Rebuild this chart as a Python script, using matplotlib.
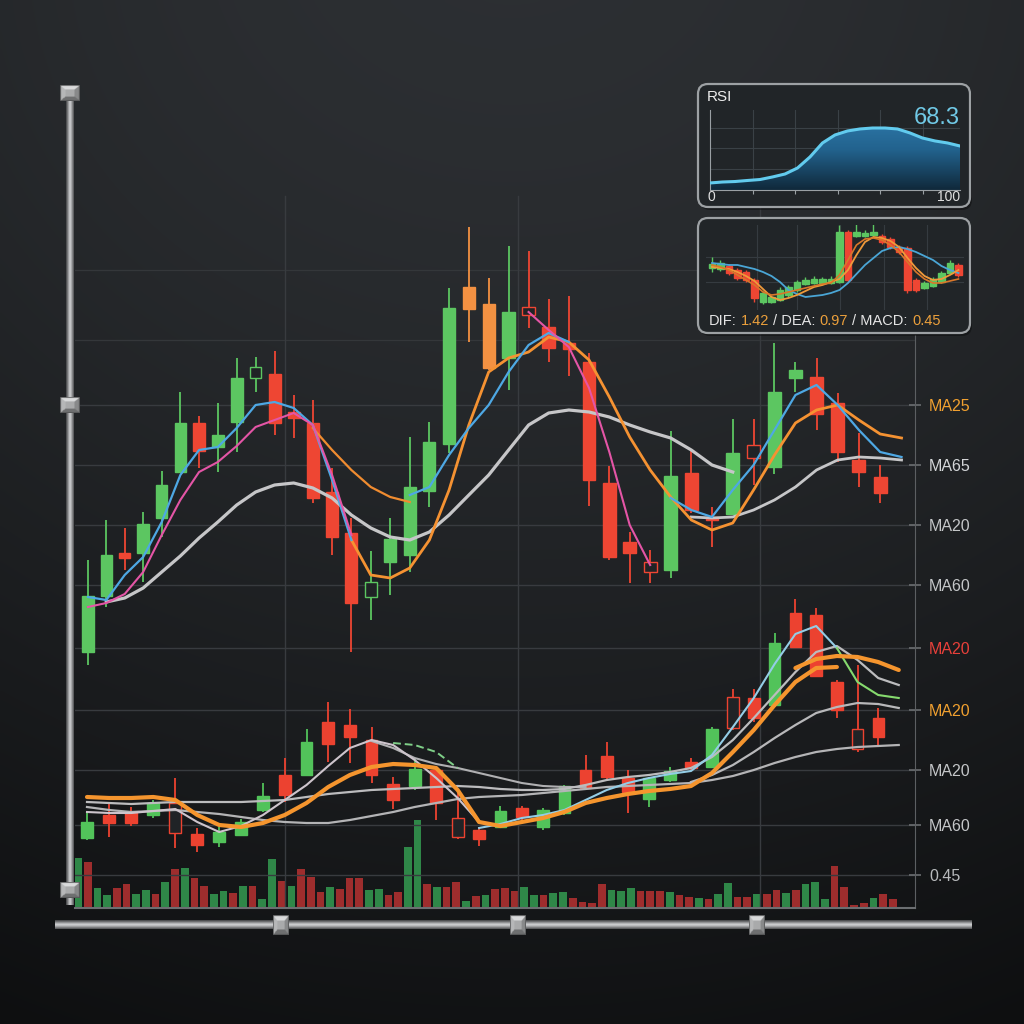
import numpy as np
import matplotlib
matplotlib.use("Agg")
import matplotlib.pyplot as plt
from matplotlib.patches import FancyBboxPatch
from matplotlib.colors import LinearSegmentedColormap

plt.rcParams["font.family"] = ["Liberation Sans", "DejaVu Sans"]

nan = np.nan

# ---------------- upper price series (41 sessions) ----------------
up_open = [25.8, 31.4, 35.7, 35.7, 39.2, 43.8, 48.7, 46.3, 48.8, 53.2, 53.6, 49.8, 48.7, 41.8,
           37.7, 31.3, 34.8, 35.5, 41.9, 46.6, 60.1, 60.6, 55.2, 60.3, 58.3, 56.7, 54.8, 42.7,
           36.8, 34.8, 34.0, 43.7, 39.3, 39.6, 46.5, 44.3, 53.2, 53.3, 50.7, 45.0, 43.3]
up_close = [31.4, 35.5, 35.2, 38.6, 42.5, 48.7, 45.9, 47.5, 53.2, 54.3, 48.7, 49.2, 41.2, 37.3,
            30.7, 32.8, 37.1, 42.3, 46.8, 60.2, 62.3, 54.2, 59.8, 59.5, 56.2, 56.1, 43.0, 35.3,
            35.7, 33.8, 43.4, 40.0, 39.0, 45.7, 45.2, 51.8, 54.0, 49.6, 45.8, 43.8, 41.7]
up_high = [35.0, 39.0, 38.2, 39.8, 43.9, 51.8, 49.4, 50.7, 55.2, 55.3, 55.9, 51.5, 51.0, 44.2,
           39.2, 35.9, 39.2, 47.3, 48.8, 62.2, 68.3, 63.2, 66.4, 65.9, 61.1, 61.4, 55.7, 44.4,
           37.8, 36.0, 47.9, 46.0, 40.3, 49.1, 49.1, 56.7, 54.8, 55.2, 51.7, 47.7, 44.5]
up_low = [24.5, 30.3, 34.0, 32.8, 37.3, 43.7, 44.2, 43.8, 45.8, 51.8, 47.5, 47.2, 40.7, 35.5,
          25.8, 29.0, 31.5, 33.8, 40.3, 45.7, 56.8, 54.0, 52.0, 58.2, 54.8, 53.4, 40.4, 35.0,
          32.7, 32.7, 33.2, 39.7, 36.3, 39.5, 42.5, 43.6, 51.8, 48.0, 44.8, 42.3, 40.7]
up_hollow = [9, 15, 23, 29, 34]
up_orange = [20, 21]

# moving averages of the upper series (42 points, last one past the final session)
up_ma_blue = [31.3, 31.0, 33.5, 35.3, 38.8, 43.5, 46.0, 46.3, 48.2, 50.5, 50.8, 50.2, 48.5, 43.0,
              37.0, nan, nan, 41.5, 42.3, 45.5, 48.2, 50.5, 53.8, 56.5, 57.7, 56.8, nan, nan,
              nan, nan, 41.2, 40.0, 39.3, 42.0, 44.5, 48.0, 51.5, 52.5, 50.5, 48.0, 45.8, 45.3]
up_ma_pink = ([30.3, 30.7, 31.6, 33.8, 37.5, 41.0, 43.8, 44.8, 46.4, 48.3, 49.0, 49.7, 48.5, 43.5,
               37.5] + [nan] * 8 + [59.8, 58.0, 56.3, 52.2, 45.8, 38.5, 34.5] + [nan] * 12)
up_ma_orange_a = [nan] * 12 + [48.2, 46.0, 44.0, 42.3, 41.3, 40.8] + [nan] * 24
up_ma_orange_b = [nan] * 14 + [37.0, 33.5, 33.2, 34.2, 37.0, 42.0, 48.5, 53.8, 55.2, 55.8, 57.3,
                               56.8, 55.0, 51.3, 47.3, 44.0, 41.3, 39.0, 38.0, 38.7, 42.0, 45.5,
                               48.7, 50.0, 50.5, 49.0, 47.6, 47.2]
up_ma_gray_a = [nan] + [30.8, 31.2, 32.2, 33.8, 35.4, 37.2, 38.8, 40.5, 41.8, 42.5, 42.7, 42.2,
                        41.2, 39.5, 38.2, 37.3, 37.0, 37.8, 39.5, 41.5, 43.5, 46.0, 48.5, 49.7,
                        50.0, 49.8, 49.3, 48.5, 47.8, 47.2, 46.0, 44.5, 43.8] + [nan] * 8
up_ma_gray_b = [nan] * 31 + [39.3, 39.2, 39.3, 40.0, 41.0, 42.3, 44.0, 45.0, 45.3, 45.2, 45.0]

# ---------------- lower price series (38 sessions) ----------------
lo_open = [7.2, 9.5, 9.8, 9.5, 10.7, 7.6, 6.8, 7.5, 10.0, 13.5, 13.5, 18.8, 18.5, 17.0, 12.6,
           12.4, 14.0, 9.2, 8.0, 8.3, 10.2, 8.3, 9.7, 14.0, 15.4, 13.2, 11.1, 13.0, 14.8, 14.3,
           21.3, 21.2, 20.5, 29.7, 29.5, 22.8, 18.1, 19.2]
lo_close = [8.8, 8.7, 8.7, 10.7, 7.7, 6.5, 7.8, 8.8, 11.4, 11.5, 16.8, 16.6, 17.3, 13.5, 11.0,
            14.1, 10.7, 7.3, 7.1, 9.9, 9.3, 10.0, 12.4, 12.2, 13.3, 11.8, 13.2, 13.9, 14.2, 18.1,
            18.2, 19.2, 26.7, 26.3, 23.4, 20.0, 16.1, 17.3]
lo_high = [9.8, 10.8, 10.3, 11.0, 13.2, 8.2, 8.3, 9.1, 12.7, 15.2, 18.1, 20.8, 20.1, 18.3, 13.3,
           15.2, 14.4, 11.7, 8.3, 10.4, 10.4, 10.2, 12.5, 15.5, 16.8, 14.0, 13.3, 14.3, 15.2,
           18.3, 22.1, 22.1, 27.7, 31.1, 30.2, 23.0, 24.5, 20.2]
lo_low = [7.0, 7.3, 8.4, 9.2, 6.2, 5.8, 6.3, 7.4, 9.8, 10.8, 13.4, 14.8, 14.7, 12.7, 10.1, 12.0,
          9.0, 7.1, 6.4, 8.2, 9.0, 8.0, 9.5, 12.0, 13.0, 9.7, 10.3, 12.8, 13.9, 14.3, 18.0, 18.8,
          20.3, 26.2, 23.3, 19.2, 15.8, 16.5]
lo_hollow = [4, 17, 30, 36]

# moving averages of the lower series (39 points)
lo_ma_orange = [11.3, 11.2, 11.2, 11.3, 11.0, 9.5, 8.5, 8.3, 8.7, 9.5, 10.7, 12.3, 13.5, 14.3,
                14.6, 14.5, 14.2, 12.0, 8.8, 8.4, 8.8, 9.2, 9.8, 10.7, 11.2, 11.6, 11.9, 12.1,
                12.4, 13.7, 15.8, 18.0, 20.5, 22.8, 24.2, 24.3, nan, nan, nan]
lo_ma_orange_top = [nan] * 33 + [24.2, 25.1, 25.4, 25.3, 24.8, 24.0]
lo_ma_peak = [9.8, 9.7, 9.7, 9.9, 10.1, 8.8, 7.8, 8.4, 9.5, 11.0, 12.5, 14.4, 16.2, 17.0, 16.5,
              15.0, 13.2, 11.2, 8.8, 8.4] + [nan] * 19
lo_ma_blue = [nan] * 18 + [8.2, 8.6, 9.2, 9.5, 10.0, 11.0, 12.0, 12.7, 13.2, 13.6, 13.9, 15.5,
                           18.3, 21.2, 24.6, 27.6, 28.4, 26.2] + [nan] * 3
lo_ma_green = [nan] * 35 + [26.2, 22.8, 21.5, 21.2]
lo_ma_green_dash = [nan] * 14 + [16.7, 16.5, 15.8, 14.2] + [nan] * 21
lo_ma_gray_a = [10.8, 10.7, 10.6, 10.7, 10.8, 10.8, 10.8, 10.8, 10.9, 11.0, 11.3, 11.6, 11.8,
                12.0, 12.1, 12.2, 12.3, 12.4, 12.3, 12.1, 12.0, 12.0, 12.1, 12.5, 13.0, 13.3,
                13.5, 13.8, 14.2, 15.3, 17.0, 19.2, 21.5, 23.8, 25.8, 26.4, 25.0, 23.2, 22.5]
lo_ma_gray_b = [nan] * 13 + [16.9, 16.2, 15.2, 14.6, 14.2, 13.7, 13.2, 12.7, 12.4, 12.3, 12.3] + [nan] * 15
lo_ma_gray_c = [nan] * 28 + [12.8, 13.5, 14.5, 15.8, 17.2, 18.5, 19.7, 20.3, 20.7, 20.6, 20.2]
lo_ma_gray_d = [10.3, 10.0, 9.8, 9.9, 10.0, 9.8, 9.6, 9.3, 9.0, 8.8, 8.7, 8.7, 9.0, 9.4, 9.8,
                10.3, 10.7, 11.1, 11.3, 11.4, 11.5, 11.7, 11.9, 12.1, 12.3, 12.4, 12.5, 12.6,
                12.7, 13.0, 13.4, 14.0, 14.7, 15.3, 15.8, 16.1, 16.3, 16.4, 16.5]

# ---------------- volume (85 bars) ----------------
volume = [50, 46, 20, 13, 20, 24, 14, 18, 14, 26, 39, 40, 30, 22, 14, 17, 15, 22, 22, 9,
          49, 27, 22, 39, 31, 16, 21, 19, 30, 30, 18, 19, 13, 16, 61, 88, 24, 21, 21, 26,
          7, 12, 13, 19, 20, 17, 21, 13, 13, 15, 16, 10, 6, 5, 24, 18, 17, 20, 17, 17,
          17, 16, 13, 11, 10, 9, 14, 25, 11, 11, 14, 14, 18, 15, 18, 24, 26, 9, 42, 21,
          3, 5, 10, 14, 9]
volume_up = [1, 0, 1, 1, 0, 0, 1, 1, 0, 1, 0, 1, 0, 0, 1, 1, 0, 1, 0, 1,
             1, 0, 1, 0, 0, 0, 1, 0, 0, 0, 1, 1, 0, 0, 1, 1, 0, 1, 0, 0,
             1, 0, 1, 0, 0, 0, 1, 1, 0, 1, 1, 0, 0, 0, 0, 1, 1, 1, 0, 0,
             0, 1, 0, 0, 1, 0, 1, 1, 0, 0, 1, 0, 0, 1, 0, 1, 1, 1, 0, 0,
             0, 0, 1, 0, 0]

# ---------------- right axis labels ----------------
ma_levels = [50.5, 44.5, 38.5, 32.5, 26.2, 20.0, 14.0, 8.5, 3.5]
ma_labels = ["MA25", "MA65", "MA20", "MA60", "MA20", "MA20", "MA20", "MA60", "0.45"]
ma_label_colors = ["#f0a030", "#d4d6d8", "#c4c6c8", "#c4c6c8", "#e8403a", "#f0a030",
                   "#c4c6c8", "#c4c6c8", "#b8babc"]
extra_grid = [64.0, 57.0]

# ---------------- RSI inset ----------------
rsi_x = list(range(0, 101, 5))
rsi_v = [8.8, 10.0, 10.6, 11.9, 13.1, 16.3, 20.0, 27.5, 41.3, 58.8, 68.8, 73.8, 76.3, 77.5,
         77.5, 76.3, 71.3, 65.0, 61.3, 58.8, 55.0]
rsi_last = "68.3"

# ---------------- MACD mini chart inset ----------------
mini_open = [42, 41, 44, 40, 38, 30, 8, 8, 10, 15, 20, 26, 27, 27, 27, 28, 78, 74, 74, 75, 74,
             71, 63, 62, 30, 22, 24, 28, 37, 45]
mini_close = [46, 47, 37, 32, 30, 12, 17, 13, 20, 23, 28, 30, 31, 31, 31, 78, 30, 78, 77, 78,
              68, 63, 58, 20, 20, 27, 31, 37, 47, 35]
mini_high = [53, 50, 46, 42, 40, 32, 19, 15, 23, 25, 30, 33, 34, 33, 34, 85, 80, 86, 80, 86,
             76, 73, 65, 64, 32, 29, 33, 39, 50, 47]
mini_low = [38, 39, 35, 30, 28, 8, 6, 7, 9, 13, 18, 25, 26, 26, 26, 27, 28, 73, 73, 74, 66, 61,
            56, 17, 18, 21, 23, 27, 36, 33]
mini_blue = [47, 46, 45, 45, 43, 41, 38, 34, 28, 20, 16, 13, 14, 15, 17, 20, 27, 36, 45, 52, 59,
             62, 63, 61, 58, 54, 50, 44, 40, 37]
mini_orange = [43, 42, 41, 38, 34, 29, 21, 13, 10, 12, 15, 19, 23, 25, 28, 31, 40, 55, 68, 73,
               72, 69, 63, 52, 42, 34, 30, 31, 35, 40]
mini_orange2 = [45, 43, 40, 35, 30, 25, 18, 15, 16, 18, 20, 22, 24, 26, 27, 35, 50, 65, 71, 72,
                70, 65, 58, 48, 38, 31, 27, 27, 29, 31]
macd_parts = [("DIF:", "#e6e6e6"), (" 1.42", "#eba03c"), (" / DEA:", "#e6e6e6"),
              (" 0.97", "#eba03c"), (" / MACD:", "#e6e6e6"), (" 0.45", "#eba03c")]

GREEN = "#5cc661"
RED = "#ee4633"
ORANGE_C = "#f39142"
HOLLOW = "#202326"
GRID = "#383b3f"

W = H = 1024.0


def frect(x0, y0, x1, y1):
    # pixel box (origin top-left) -> figure rect
    return [x0 / W, 1 - y1 / H, (x1 - x0) / W, (y1 - y0) / H]


def session_scale(step, curve):
    # sessions are drawn slightly wider/narrower across the chart
    def fwd(x):
        x = np.asarray(x, float)
        return step * x + curve * x * x

    def inv(t):
        t = np.asarray(t, float)
        return (-step + np.sqrt(np.maximum(step * step + 4 * curve * t, 0))) / (2 * curve)
    return fwd, inv


def candles(axis, o, h, l, c, width, hollow=(), special=None, green=GREEN, red=RED, wick=1.3):
    o, h, l, c = (np.asarray(v, float) for v in (o, h, l, c))
    x = np.arange(len(o))
    cols = [green if c[i] >= o[i] else red for i in range(len(o))]
    for i in (special or []):
        cols[i] = ORANGE_C
    axis.vlines(x, l, h, colors=cols, lw=wick, zorder=3)
    faces = [HOLLOW if i in hollow else cols[i] for i in range(len(o))]
    axis.bar(x, np.maximum(np.abs(c - o), 0.35), width, bottom=np.minimum(o, c),
             color=faces, edgecolor=cols, linewidth=1.0, zorder=4)


fig = plt.figure(figsize=(10.24, 10.24), dpi=100)

# background gradient
bg = fig.add_axes([0, 0, 1, 1], zorder=0)
yy, xx = np.mgrid[0:1:300j, 0:1:300j]
top = np.array([0.182, 0.194, 0.208])
bot = np.array([0.092, 0.099, 0.107])
img = top * (1 - yy[..., None]) + bot * yy[..., None]
img *= (1 - 0.55 * ((xx - 0.5) ** 2 + (yy - 0.3) ** 2))[..., None]
bg.imshow(np.clip(img, 0, 1), extent=(0, 1, 0, 1), aspect="auto", interpolation="bicubic")
bg.axis("off")

main_rect = frect(75, 80, 915, 908)
ax_vol = fig.add_axes(main_rect, zorder=1)
ax = fig.add_axes(main_rect, zorder=2)
ax_lo = fig.add_axes(main_rect, zorder=3)
for a in (ax_vol, ax, ax_lo):
    a.patch.set_alpha(0)

# volume
ax_vol.bar(np.arange(len(volume)), volume, width=0.8,
           color=["#2f8748" if u else "#9e2d2d" for u in volume_up], zorder=1)
ax_vol.set_xlim(-0.31, 86.29)
ax_vol.set_ylim(0, 828)
ax_vol.axis("off")

# upper axes: grid + right axis
up_fwd, up_inv = session_scale(18.28, 0.0381)
ax.set_xscale("function", functions=(up_fwd, up_inv))
ax.set_xlim(float(up_inv(75 - 88)), float(up_inv(915 - 88)))
ax.set_ylim(0.2, 83.0)
for y in ma_levels:
    ax.axhline(y, color=GRID, lw=1.0, zorder=0)
for y in extra_grid:
    ax.axhline(y, color="#34373a", lw=0.9, zorder=0)
for px in (285, 518, 760):
    ax.axvline(float(up_inv(px - 88)), ymax=0.86, color=GRID, lw=1.0, zorder=0)
ax.set_xticks([])
ax.xaxis.set_minor_locator(matplotlib.ticker.NullLocator())
ax.yaxis.tick_right()
ax.set_yticks(ma_levels)
ax.set_yticklabels(ma_labels)
ax.tick_params(axis="y", direction="inout", length=8, width=1.2, pad=6, labelsize=11.5,
               colors="#6a6d70")
for t, col in zip(ax.yaxis.get_major_ticks(), ma_label_colors):
    t.label2.set_color(col)
    if col in ("#f0a030", "#e8403a"):
        t.tick2line.set_color(col)
for s in ("top", "left"):
    ax.spines[s].set_visible(False)
ax.spines["right"].set_color("#5c5f62")
ax.spines["right"].set_bounds(0.2, 57.5)
ax.spines["bottom"].set_color("#6b6e71")
ax.spines["bottom"].set_linewidth(1.5)

# upper candles + averages
candles(ax, up_open, up_high, up_low, up_close, 0.62, hollow=up_hollow, special=up_orange)
xu = np.arange(len(up_ma_blue))
ax.plot(xu, up_ma_gray_a, color="#c6c6c8", lw=2.3, zorder=5)
ax.plot(xu, up_ma_gray_b, color="#c6c6c8", lw=2.0, zorder=5)
ax.plot(xu, up_ma_orange_a, color="#f08c30", lw=1.6, zorder=6)
ax.plot(xu, up_ma_orange_b, color="#f59232", lw=2.0, zorder=6)
ax.plot(xu, up_ma_blue, color="#4ea8e4", lw=1.6, zorder=6)
ax.plot(xu, up_ma_pink, color="#e455a6", lw=1.5, zorder=6)

# lower candles + averages
lo_fwd, lo_inv = session_scale(22.16, -0.021)
ax_lo.set_xscale("function", functions=(lo_fwd, lo_inv))
ax_lo.set_xlim(float(lo_inv(75 - 87)), float(lo_inv(915 - 87)))
ax_lo.set_ylim(0.2, 83.0)
ax_lo.axis("off")
candles(ax_lo, lo_open, lo_high, lo_low, lo_close, 0.55, hollow=lo_hollow,
        green="#52c35a", red="#ec4230")
xl = np.arange(len(lo_ma_orange))
ax_lo.plot(xl, lo_ma_gray_d, color="#b4b4b6", lw=1.6, zorder=5)
ax_lo.plot(xl, lo_ma_gray_c, color="#b8b8ba", lw=1.6, zorder=5)
ax_lo.plot(xl, lo_ma_gray_b, color="#b0b0b2", lw=1.5, zorder=5)
ax_lo.plot(xl, lo_ma_gray_a, color="#bcbcbe", lw=1.6, zorder=5)
ax_lo.plot(xl, lo_ma_peak, color="#cdc4cc", lw=1.5, zorder=5)
ax_lo.plot(xl, lo_ma_blue, color="#94cde6", lw=1.5, zorder=5)
ax_lo.plot(xl, lo_ma_green, color="#86da6e", lw=1.5, zorder=5)
ax_lo.plot(xl, lo_ma_green_dash, color="#7fcf88", lw=1.4, ls=(0, (4, 2)), zorder=5)
ax_lo.plot(xl, lo_ma_orange, color="#f5952e", lw=3.0, zorder=6, solid_capstyle="round")
ax_lo.plot(xl, lo_ma_orange_top, color="#f5952e", lw=3.0, zorder=6, solid_capstyle="round")

# inset boxes
boxes = fig.add_axes([0, 0, 1, 1], zorder=8)
boxes.patch.set_alpha(0)
for (x0, y0, w, h) in ((698, 84, 272, 123), (698, 218, 272, 115)):
    boxes.add_patch(FancyBboxPatch((x0 + 2, y0 + 3), w, h, boxstyle="round,pad=0,rounding_size=10",
                                   fc="#0c0d0e", ec="none", alpha=0.5))
    boxes.add_patch(FancyBboxPatch((x0, y0), w, h, boxstyle="round,pad=0,rounding_size=10",
                                   fc="#212528", ec="#9da1a4", lw=1.6))
boxes.set_xlim(0, W)
boxes.set_ylim(H, 0)
boxes.axis("off")

# RSI
ax_rsi = fig.add_axes(frect(710, 110, 960, 190), zorder=9)
ax_rsi.patch.set_alpha(0)
for xv in (17, 34, 51, 68, 85):
    ax_rsi.axvline(xv, color="#3a4146", lw=0.8, zorder=0)
for yv in (26, 52, 78):
    ax_rsi.axhline(yv, color="#3a4146", lw=0.8, zorder=0)
poly = ax_rsi.fill_between(rsi_x, rsi_v, 0, color="none")
cmap = LinearSegmentedColormap.from_list("rsi", ["#10293b", "#22628d", "#2f7db0"])
grad = np.linspace(1, 0, 100).reshape(-1, 1)
im = ax_rsi.imshow(grad, extent=(0, 100, 0, 100), aspect="auto", cmap=cmap, zorder=1)
im.set_clip_path(poly.get_paths()[0], transform=ax_rsi.transData)
ax_rsi.plot(rsi_x, rsi_v, color="#62cbee", lw=2.2, zorder=3)
ax_rsi.set_xlim(0, 100)
ax_rsi.set_ylim(0, 100)
ax_rsi.set_xticks([17, 34, 51, 68, 85])
ax_rsi.set_yticks([])
ax_rsi.tick_params(axis="x", length=3, color="#9aa0a4", labelbottom=False)
for s in ("top", "right"):
    ax_rsi.spines[s].set_visible(False)
for s in ("left", "bottom"):
    ax_rsi.spines[s].set_color("#9aa0a4")

# MACD mini chart
ax_m = fig.add_axes(frect(706, 225, 964, 310), zorder=9)
ax_m.patch.set_alpha(0)
for xv in (5.3, 10.0, 15.1, 20.2, 25.3):
    ax_m.axvline(xv, color="#353b40", lw=0.8, zorder=0)
for yv in (28, 53):
    ax_m.axhline(yv, color="#353b40", lw=0.8, zorder=0)
candles(ax_m, mini_open, mini_high, mini_low, mini_close, 0.72, wick=1.0)
xm = np.arange(len(mini_blue))
ax_m.plot(xm, mini_blue, color="#4aa6d6", lw=1.3, zorder=6)
ax_m.plot(xm, mini_orange, color="#ef9a3a", lw=1.3, zorder=6)
ax_m.plot(xm, mini_orange2, color="#d9772a", lw=1.2, zorder=6)
ax_m.set_xlim(-0.706, 29.65)
ax_m.set_ylim(0, 85)
ax_m.axis("off")

# chrome: sliders, knobs, inset texts
chrome = fig.add_axes([0, 0, 1, 1], zorder=20)
chrome.patch.set_alpha(0)

metal = LinearSegmentedColormap.from_list("metal", ["#3c3d3f", "#8a8b8d", "#d8d9db", "#9a9b9d", "#4a4b4d"])
bar_grad = np.linspace(0, 1, 40)
chrome.imshow(bar_grad.reshape(1, -1), extent=(66, 74, 905, 92), aspect="auto", cmap=metal,
              interpolation="bicubic", zorder=1)
chrome.imshow(bar_grad.reshape(-1, 1), extent=(55, 972, 929, 920), aspect="auto", cmap=metal,
              interpolation="bicubic", zorder=1)

u, v = np.meshgrid(np.linspace(-1, 1, 40), np.linspace(-1, 1, 40))
knob = np.where(np.abs(v) >= np.abs(u), np.where(v < 0, 0.88, 0.38), np.where(u < 0, 0.72, 0.5))
knob = np.where(np.maximum(np.abs(u), np.abs(v)) < 0.45, 0.66, knob)
knob = np.where(np.maximum(np.abs(u), np.abs(v)) > 0.9, 0.25, knob)
knob_cmap = LinearSegmentedColormap.from_list("knob", ["#1e1f20", "#f2f3f4"])
for ky in (93, 405, 890):
    chrome.imshow(knob, extent=(60, 80, ky + 8, ky - 8), aspect="auto", cmap=knob_cmap,
                  vmin=0, vmax=1, interpolation="bilinear", zorder=2)
for kx in (281, 518, 757):
    chrome.imshow(knob, extent=(kx - 8, kx + 8, 935, 915), aspect="auto", cmap=knob_cmap,
                  vmin=0, vmax=1, interpolation="bilinear", zorder=2)

chrome.text(707, 97, "RSI", color="#ececec", fontsize=11, ha="left", va="center")
chrome.text(960, 118, rsi_last, color="#70c9e6", fontsize=17, ha="right", va="center")
chrome.text(708, 197, "0", color="#e0e0e0", fontsize=10, ha="left", va="center")
chrome.text(960, 197, "100", color="#e0e0e0", fontsize=10, ha="right", va="center")

chrome.set_xlim(0, W)
chrome.set_ylim(H, 0)
chrome.axis("off")

fig.canvas.draw()
renderer = fig.canvas.get_renderer()
prefix = ""
x0 = 709
for part, col in macd_parts:
    prefix += part
    probe = chrome.text(0, 0, prefix, fontsize=10.5)
    wpx = probe.get_window_extent(renderer=renderer).width
    probe.remove()
    chrome.text(x0 + wpx, 321, part.strip(), color=col, fontsize=10.5, ha="right", va="center")

fig.savefig("out.png", dpi=100)
